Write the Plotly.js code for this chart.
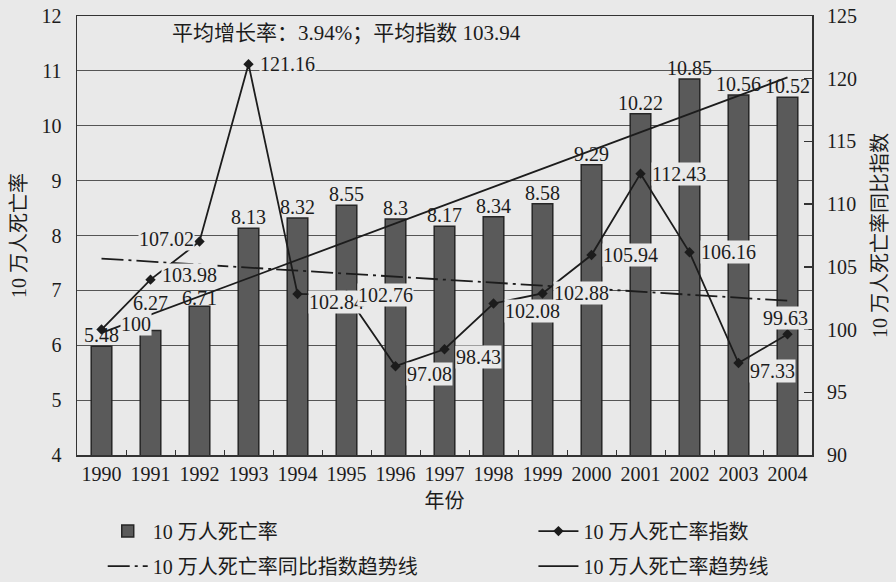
<!DOCTYPE html>
<html>
<head>
<meta charset="utf-8">
<script src="https://cdn.plot.ly/plotly-3.0.1.min.js"></script>
<style>html,body{margin:0;padding:0;background:#e9e9e9;}#chart{width:896px;height:582px;}</style>
</head>
<body>
<div id="chart"></div>
<script>
// ---- data ----
const years = ['1990','1991','1992','1993','1994','1995','1996','1997','1998','1999','2000','2001','2002','2003','2004'];
// bar heights as drawn (10万人死亡率)
const rate = [5.98, 6.27, 6.71, 8.13, 8.32, 8.55, 8.30, 8.17, 8.34, 8.58, 9.29, 10.22, 10.85, 10.56, 10.52];
// printed bar labels
const rateText = ['5.48','6.27','6.71','8.13','8.32','8.55','8.3','8.17','8.34','8.58','9.29','10.22','10.85','10.56','10.52'];
// 10万人死亡率指数 (同比)
const indexVal = [100, 103.98, 107.02, 121.16, 102.84, 102.76, 97.08, 98.43, 102.08, 102.88, 105.94, 112.43, 106.16, 97.33, 99.63];
const indexText = ['100','103.98','107.02','121.16','102.84','102.76','97.08','98.43','102.08','102.88','105.94','112.43','106.16','97.33','99.63'];
const noteText = '平均增长率：3.94%；平均指数 103.94';

// ---- label placement (style, not data) ----
// r = right, u = right slightly up, d = right-below, l = left, t = above, ru = right-up
const indexPos = ['ru','u','l','r','d','r','d','d','d','r','r','r','r','d','t'];
const barLabelLift = {1: 16, 2: -3};

// ---- helpers ----
function linTrend(vals){
  const n = vals.length; let sx=0, sy=0, sxx=0, sxy=0;
  vals.forEach((v,i)=>{sx+=i; sy+=v; sxx+=i*i; sxy+=i*v;});
  const b = (n*sxy - sx*sy)/(n*sxx - sx*sx); const a = (sy - b*sx)/n;
  return vals.map((v,i)=>a+b*i);
}
const rateNum = rateText.map(Number);
const rateTrend = linTrend(rateNum);
const indexTrend = linTrend(indexVal);

const FONT = 'Liberation Serif, "Noto Sans CJK SC", serif';
const BG = '#e9e9e9';
const INK = '#1c1c1c';

const traces = [
  {type:'bar', x:years, y:rate, name:'10 万人死亡率', yaxis:'y',
   marker:{color:'#5a5a5a', line:{color:'#262626', width:1.5}}, width:0.42,
   legend:'legend', legendgroup:'a', hoverinfo:'skip'},
  {type:'scatter', mode:'lines+markers', x:years, y:indexVal, name:'10 万人死亡率指数', yaxis:'y2',
   line:{color:INK, width:1.8}, marker:{symbol:'diamond', size:8, color:INK},
   legend:'legend2', legendgroup:'b'},
  {type:'scatter', mode:'lines', x:years, y:indexTrend, name:'10 万人死亡率同比指数趋势线', yaxis:'y2',
   line:{color:INK, width:1.8, dash:'22px,5px,3px,5px'}, legend:'legend', legendgroup:'c'},
  {type:'scatter', mode:'lines', x:years, y:rateTrend, name:'10 万人死亡率趋势线', yaxis:'y',
   line:{color:INK, width:1.8}, legend:'legend2', legendgroup:'d'}
];

const annotations = indexVal.map((v,i)=>{
  const p = indexPos[i];
  const a = {x:i, y:v, xref:'x', yref:'y2', text:indexText[i], showarrow:false,
    font:{family:FONT, size:20, color:INK}, bgcolor:BG, borderpad:0};
  if(p==='l'){a.xanchor='right'; a.xshift=-5; a.yshift=3;}
  else if(p==='t'){a.xanchor='center'; a.yshift=16; a.xshift=-2;}
  else if(p==='ru'){a.xanchor='left'; a.xshift=18; a.yshift=6;}
  else {a.xanchor='left'; a.xshift=10; a.yshift = p==='d'? -8 : (p==='u'? 5 : 0);}
  return a;
});
rate.forEach((v,i)=>{
  annotations.push({x:i, y:v, xref:'x', yref:'y', text:rateText[i], showarrow:false,
    xanchor:'center', yanchor:'bottom', yshift:-1 + (barLabelLift[i]||0),
    font:{family:FONT, size:20, color:INK}, borderpad:0});
});
annotations.push({xref:'paper', yref:'paper', x:0.127, y:0.962, xanchor:'left', yanchor:'middle',
  text:noteText, showarrow:false, font:{family:FONT, size:21, color:INK}});

const legendCommon = {orientation:'v', bgcolor:'rgba(0,0,0,0)', font:{family:FONT, size:20, color:INK},
  yref:'container', yanchor:'top', xanchor:'left', tracegroupgap:6, itemwidth:40};

const layout = {
  width:896, height:582,
  margin:{l:77, r:84, t:16, b:127, autoexpand:false},
  paper_bgcolor:BG, plot_bgcolor:BG,
  font:{family:FONT, size:19, color:INK},
  showlegend:true,
  xaxis:{type:'category', range:[-0.5, 14.5], autorange:false, showline:true, mirror:true, linecolor:'#333', linewidth:1.5,
    ticks:'inside', tickson:'boundaries', ticklen:5, tickcolor:'#333', tickangle:0,
    tickfont:{family:FONT, size:20, color:INK}, showgrid:false,
    title:{text:'年份', font:{family:FONT, size:20, color:INK}, standoff:22}},
  yaxis:{range:[4,12], autorange:false, dtick:1, showline:true, mirror:true, linecolor:'#333', linewidth:1.5,
    showgrid:true, gridcolor:'#555', gridwidth:1, zeroline:false, ticks:'',
    ticklabelstandoff:10, tickfont:{family:FONT, size:20, color:INK},
    title:{text:'10 万人死亡率', font:{family:FONT, size:20, color:INK}, standoff:9}},
  yaxis2:{range:[90,125], autorange:false, dtick:5, overlaying:'y', side:'right', showgrid:false, zeroline:false,
    ticks:'inside', ticklen:8, tickcolor:'#333', tickwidth:1.5, showline:false,
    ticklabelstandoff:14, tickfont:{family:FONT, size:20, color:INK},
    title:{text:'10 万人死亡率同比指数', font:{family:FONT, size:20, color:INK}, standoff:16}},
  legend:Object.assign({}, legendCommon, {x:0.035, y:0.121}),
  legend2:Object.assign({}, legendCommon, {x:0.621, y:0.121}),
  annotations:annotations
};

Plotly.newPlot('chart', traces, layout, {staticPlot:true});
</script>
</body>
</html>
